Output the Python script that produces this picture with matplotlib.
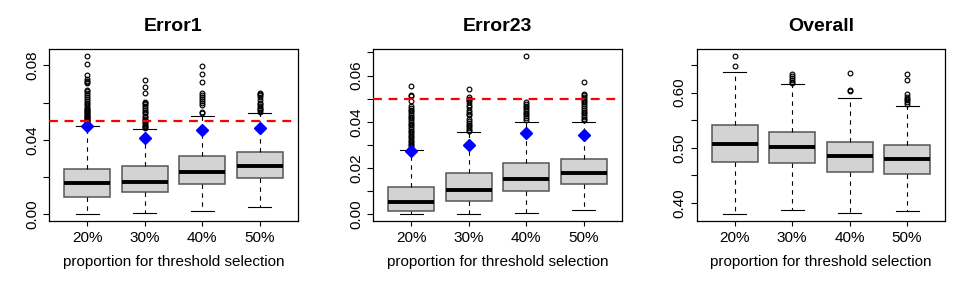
import matplotlib.pyplot as plt

plt.rcParams['font.family'] = ['Liberation Sans', 'DejaVu Sans']

labels = ["20%", "30%", "40%", "50%"]
xlabel = "proportion for threshold selection"

# --- Error1 ---
err1_lo = [0.0000, 0.0005, 0.0020, 0.0041]
err1_q1 = [0.0093, 0.0118, 0.0163, 0.0197]
err1_med = [0.0166, 0.0174, 0.0227, 0.0261]
err1_q3 = [0.0245, 0.0258, 0.0311, 0.0336]
err1_hi = [0.0474, 0.0460, 0.0528, 0.0546]
err1_mark = [0.0474, 0.0408, 0.0451, 0.0464]
err1_out = [
    [0.0852, 0.0807, 0.0748, 0.0725, 0.0718, 0.0712, 0.0705, 0.0668, 0.0660,
     0.0650, 0.0640, 0.0630, 0.0620, 0.0610, 0.0600, 0.0590, 0.0580, 0.0572,
     0.0565, 0.0560, 0.0555, 0.0550, 0.0545, 0.0540, 0.0535, 0.0530, 0.0525,
     0.0520, 0.0515, 0.0510, 0.0505, 0.0500, 0.0495, 0.0490, 0.0485, 0.0480],
    [0.0721, 0.0685, 0.0653, 0.0605, 0.0598, 0.0590, 0.0580, 0.0570, 0.0560,
     0.0550, 0.0542, 0.0528, 0.0520, 0.0512, 0.0505, 0.0498, 0.0490, 0.0482,
     0.0475, 0.0468, 0.0463],
    [0.0798, 0.0752, 0.0712, 0.0650, 0.0640, 0.0630, 0.0620, 0.0610, 0.0600,
     0.0587, 0.0551, 0.0542],
    [0.0653, 0.0648, 0.0640, 0.0630, 0.0615, 0.0600, 0.0590, 0.0580, 0.0572,
     0.0565, 0.0558, 0.0551],
]

# --- Error23 ---
err23_lo = [0.0000, 0.0000, 0.0004, 0.0020]
err23_q1 = [0.0016, 0.0059, 0.0101, 0.0130]
err23_med = [0.0055, 0.0105, 0.0154, 0.0177]
err23_q3 = [0.0118, 0.0177, 0.0220, 0.0239]
err23_hi = [0.0277, 0.0357, 0.0401, 0.0401]
err23_mark = [0.0275, 0.0298, 0.0350, 0.0345]
err23_out = [
    [0.0555, 0.0518, 0.0510, 0.0489, 0.0467, 0.0460, 0.0452, 0.0445, 0.0438,
     0.0430, 0.0422, 0.0415, 0.0408, 0.0400, 0.0392, 0.0385, 0.0378, 0.0370,
     0.0362, 0.0355, 0.0348, 0.0340, 0.0333, 0.0326, 0.0319, 0.0312, 0.0305,
     0.0298, 0.0291, 0.0284, 0.0280],
    [0.0544, 0.0508, 0.0500, 0.0493, 0.0486, 0.0472, 0.0462, 0.0452, 0.0442,
     0.0435, 0.0428, 0.0414, 0.0405, 0.0395, 0.0388, 0.0380, 0.0372, 0.0366,
     0.0362],
    [0.0686, 0.0486, 0.0478, 0.0470, 0.0462, 0.0455, 0.0447, 0.0440, 0.0432,
     0.0424, 0.0416, 0.0409],
    [0.0570, 0.0522, 0.0515, 0.0508, 0.0500, 0.0492, 0.0484, 0.0476, 0.0468,
     0.0460, 0.0452, 0.0444, 0.0436, 0.0428, 0.0420, 0.0412, 0.0407],
]

# --- Overall ---
ovr_lo = [0.3795, 0.3870, 0.3820, 0.3855]
ovr_q1 = [0.4740, 0.4717, 0.4554, 0.4530]
ovr_med = [0.5066, 0.5018, 0.4843, 0.4790]
ovr_q3 = [0.5420, 0.5295, 0.5110, 0.5042]
ovr_hi = [0.6372, 0.6156, 0.5902, 0.5758]
ovr_out = [
    [0.6669, 0.6488],
    [0.6343, 0.6300, 0.6260, 0.6220, 0.6190, 0.6174],
    [0.6354, 0.6042, 0.6024],
    [0.6343, 0.6222, 0.5982, 0.5920, 0.5890, 0.5860, 0.5830, 0.5800],
]

panels = [
    dict(title="Error1", lo=err1_lo, q1=err1_q1, med=err1_med, q3=err1_q3,
         hi=err1_hi, out=err1_out, mark=err1_mark, ref=0.05,
         ticks=[0.00, 0.02, 0.04, 0.06, 0.08],
         ticklabels=["0.00", "", "0.04", "", "0.08"]),
    dict(title="Error23", lo=err23_lo, q1=err23_q1, med=err23_med, q3=err23_q3,
         hi=err23_hi, out=err23_out, mark=err23_mark, ref=0.05,
         ticks=[0.00, 0.01, 0.02, 0.03, 0.04, 0.05, 0.06, 0.07],
         ticklabels=["0.00", "", "0.02", "", "0.04", "", "0.06", ""]),
    dict(title="Overall", lo=ovr_lo, q1=ovr_q1, med=ovr_med, q3=ovr_q3,
         hi=ovr_hi, out=ovr_out, mark=None, ref=None,
         ticks=[0.40, 0.45, 0.50, 0.55, 0.60, 0.65],
         ticklabels=["0.40", "", "0.50", "", "0.60", ""]),
]

fig = plt.figure(figsize=(9.69, 2.83), dpi=100)
lefts = [0.0509, 0.3852, 0.7190]

for left, p in zip(lefts, panels):
    ax = fig.add_axes([left, 0.2201, 0.2562, 0.6057])
    stats = []
    for i in range(4):
        stats.append(dict(med=p["med"][i], q1=p["q1"][i], q3=p["q3"][i],
                          whislo=p["lo"][i], whishi=p["hi"][i],
                          fliers=p["out"][i]))
    pos = [1, 2, 3, 4]
    ax.bxp(stats, positions=pos, widths=0.8, patch_artist=True,
           boxprops=dict(facecolor="#d3d3d3", edgecolor="#555555", linewidth=1.1),
           medianprops=dict(color="black", linewidth=2.8, solid_capstyle="butt"),
           whiskerprops=dict(color="black", linewidth=0.8, linestyle=(0, (4, 4))),
           capprops=dict(color="black", linewidth=0.8),
           capwidths=0.4,
           flierprops=dict(marker="o", markersize=3.4, markerfacecolor="none",
                           markeredgecolor="black", markeredgewidth=0.85))
    if p["mark"] is not None:
        ax.plot(pos, p["mark"], linestyle="none", marker="D", markersize=6,
                color="#0000ff", zorder=4)
    if p["ref"] is not None:
        ax.axhline(p["ref"], color="#ff0000", linestyle=(0, (4, 3)), linewidth=1.6,
                   zorder=5)

    allvals = p["lo"] + p["hi"] + [v for o in p["out"] for v in o]
    vmin, vmax = min(allvals), max(allvals)
    pad = (vmax - vmin) * 0.04
    ax.set_ylim(vmin - pad, vmax + pad)
    ax.set_xlim(0.34, 4.66)

    ax.set_xticks(pos)
    ax.set_xticklabels(labels, fontsize=11)
    ax.set_yticks(p["ticks"])
    ax.set_yticklabels(p["ticklabels"], fontsize=11, rotation=90, va="center")
    ax.tick_params(axis="y", length=4.3, width=0.8, pad=3)
    ax.tick_params(axis="x", length=3.4, width=0.8, pad=4)
    for s in ax.spines.values():
        s.set_linewidth(0.9)
    ax.set_xlabel(xlabel, fontsize=11, labelpad=7)
    ax.set_title(p["title"], fontsize=14, fontweight="bold", pad=13)

plt.savefig("out.png", dpi=100)
